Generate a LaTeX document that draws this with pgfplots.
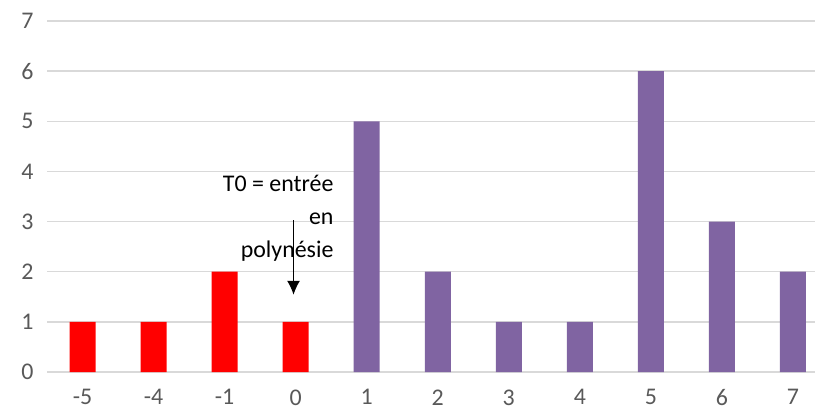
\documentclass[border=0pt]{standalone}
\usepackage{pgfplots}
\pgfplotsset{compat=1.18}
\usetikzlibrary{arrows.meta}
\usepackage{fontspec}
\setmainfont{Carlito}
\definecolor{gridgray}{HTML}{D9D9D9}
\definecolor{labelgray}{HTML}{595959}
\definecolor{barpurple}{HTML}{8064A2}
\definecolor{barred}{HTML}{FF0000}
\begin{document}
\begin{tikzpicture}
\begin{axis}[
  scale only axis,
  width=768bp, height=351bp,
  anchor=south west, at={(0,0)},
  xmin=-0.5, xmax=10.31,
  ymin=0, ymax=7,
  xtick={0,...,10},
  xticklabels={-5,-4,-1,0,1,2,3,4,5,6,7},
  ytick={0,...,7},
  ymajorgrids,
  grid style={gridgray, line width=1.5bp},
  axis line style={draw=none},
  major tick length=0pt,
  tick label style={font=\fontsize{24}{28}\selectfont, text=labelgray},
  /pgf/number format/assume math mode=true,
  xticklabel style={yshift=-14bp},
  yticklabel style={xshift=-10bp},
  clip=false,
]
% Before T0 (red)
\addplot[ybar, bar width=26bp, fill=barred, draw=none] coordinates {
  (0,1) (1,1) (2,2) (3,1)
};
% After T0 (purple)
\addplot[ybar, bar width=26bp, fill=barpurple, draw=none] coordinates {
  (4,5) (5,2) (6,1) (7,1) (8,6) (9,3) (10,2)
};
\node[anchor=north east, align=right, font=\fontsize{24}{33}\selectfont, inner sep=0pt]
  at (axis cs:3.535,3.92) {T0 = entrée\\en\\polynésie};
\draw[-{Latex[length=14bp,width=13bp]}, line width=1.3bp] (axis cs:2.97,3.03) -- (axis cs:2.97,1.54);
\end{axis}
\pgfresetboundingbox
\path (-47bp,-40bp) rectangle (768bp,372bp);
\end{tikzpicture}
\end{document}
